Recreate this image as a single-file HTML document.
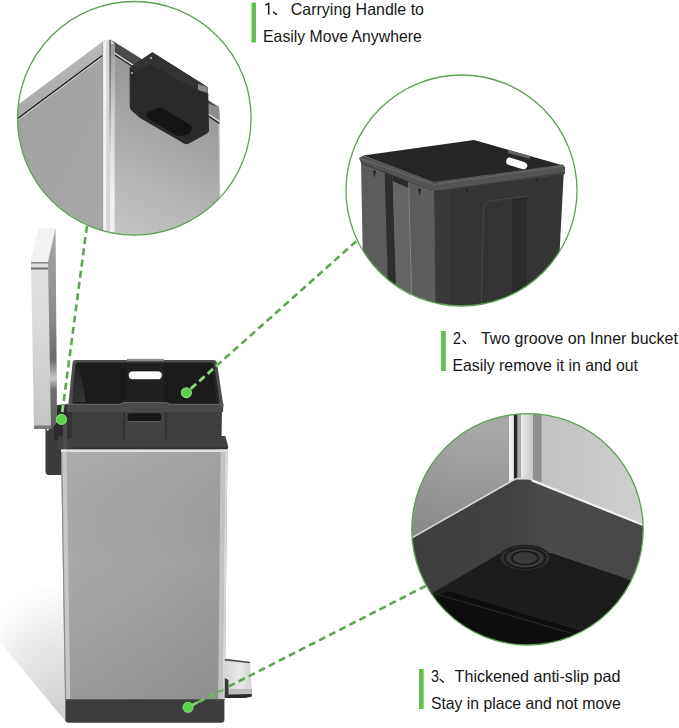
<!DOCTYPE html>
<html><head><meta charset="utf-8">
<style>
html,body{margin:0;padding:0;background:#fff;}
body{width:679px;height:728px;overflow:hidden;position:relative;}
svg{position:absolute;left:0;top:0;display:block;}
text{font-family:"Liberation Sans",sans-serif;fill:#161616;}
</style></head><body>
<svg width="679" height="728" viewBox="0 0 679 728">
<defs>
  <clipPath id="c1"><circle cx="134.3" cy="118.3" r="116.8"/></clipPath>
  <clipPath id="c2"><circle cx="461.5" cy="190.5" r="115.5"/></clipPath>
  <clipPath id="c3"><circle cx="527.5" cy="529.3" r="115.7"/></clipPath>
  <linearGradient id="bodyG" x1="0" y1="0" x2="1" y2="0">
    <stop offset="0" stop-color="#a9a9a9"/>
    <stop offset="0.5" stop-color="#a3a3a3"/>
    <stop offset="1" stop-color="#9c9c9c"/>
  </linearGradient>
  <linearGradient id="c1R" x1="0.5" y1="0" x2="0.2" y2="1">
    <stop offset="0" stop-color="#8e8e8e"/>
    <stop offset="0.5" stop-color="#aaaaaa"/>
    <stop offset="1" stop-color="#c4c4c4"/>
  </linearGradient>
  <linearGradient id="c3L" x1="400" y1="415" x2="380" y2="545" gradientUnits="userSpaceOnUse">
    <stop offset="0" stop-color="#a8a8a8"/>
    <stop offset="1" stop-color="#858585"/>
  </linearGradient>
  <linearGradient id="c3B" x1="0" y1="0" x2="0" y2="1">
    <stop offset="0" stop-color="#474747"/>
    <stop offset="0.5" stop-color="#3e3e3e"/>
    <stop offset="1" stop-color="#3a3a3a"/>
  </linearGradient>
  <linearGradient id="c3R" x1="0" y1="0" x2="1" y2="0">
    <stop offset="0" stop-color="#c2c2c2"/>
    <stop offset="1" stop-color="#d0d0d0"/>
  </linearGradient>
  <linearGradient id="shadowG" x1="0" y1="0" x2="0" y2="1">
    <stop offset="0" stop-color="#ffffff"/>
    <stop offset="1" stop-color="#e2e2e2"/>
  </linearGradient>
  <linearGradient id="lidSide" x1="0" y1="0" x2="0" y2="1">
    <stop offset="0" stop-color="#a8a8a8"/>
    <stop offset="0.45" stop-color="#8a8a8a"/>
    <stop offset="0.65" stop-color="#6a6a6a"/>
    <stop offset="0.75" stop-color="#c8c8c8"/>
    <stop offset="0.8" stop-color="#707070"/>
    <stop offset="1" stop-color="#5a5a5a"/>
  </linearGradient>
  <linearGradient id="lidF" x1="0" y1="228" x2="0" y2="429" gradientUnits="userSpaceOnUse">
    <stop offset="0" stop-color="#e4e4e4"/>
    <stop offset="0.5" stop-color="#dadada"/>
    <stop offset="1" stop-color="#c4c4c4"/>
  </linearGradient>
  <linearGradient id="c1L" x1="0" y1="0" x2="1" y2="1">
    <stop offset="0" stop-color="#a0a0a0"/>
    <stop offset="1" stop-color="#a8a8a8"/>
  </linearGradient>
  <linearGradient id="c1Lip" x1="0" y1="0" x2="0" y2="1">
    <stop offset="0" stop-color="#b8b8b8"/>
    <stop offset="1" stop-color="#a6a6a6"/>
  </linearGradient>
  <linearGradient id="c3C" x1="0" y1="0" x2="1" y2="0">
    <stop offset="0" stop-color="#ececec"/>
    <stop offset="1" stop-color="#c4c4c4"/>
  </linearGradient>
  <linearGradient id="bodyV" x1="0" y1="0" x2="0" y2="1">
    <stop offset="0" stop-color="#ffffff" stop-opacity="0.06"/>
    <stop offset="0.45" stop-color="#000000" stop-opacity="0"/>
    <stop offset="1" stop-color="#000000" stop-opacity="0.09"/>
  </linearGradient>
  <radialGradient id="shadowR" cx="62" cy="712" r="130" gradientUnits="userSpaceOnUse" gradientTransform="translate(62 712) scale(0.75 1) translate(-62 -712)">
    <stop offset="0" stop-color="#d0d0d0"/>
    <stop offset="0.5" stop-color="#e6e6e6"/>
    <stop offset="1" stop-color="#ffffff"/>
  </radialGradient>
  <linearGradient id="bucketL" x1="0" y1="0" x2="0" y2="1">
    <stop offset="0" stop-color="#222"/>
    <stop offset="1" stop-color="#363636"/>
  </linearGradient>
  <linearGradient id="c1Dark" x1="0" y1="40" x2="0" y2="160" gradientUnits="userSpaceOnUse">
    <stop offset="0" stop-color="#555"/>
    <stop offset="1" stop-color="#555" stop-opacity="0"/>
  </linearGradient>
  <linearGradient id="c3B2" x1="0" y1="0" x2="0" y2="1">
    <stop offset="0" stop-color="#4c4c4c"/>
    <stop offset="1" stop-color="#424242"/>
  </linearGradient>
  <linearGradient id="c3BH" x1="400" y1="0" x2="660" y2="0" gradientUnits="userSpaceOnUse">
    <stop offset="0" stop-color="#3d3d3d"/>
    <stop offset="0.42" stop-color="#414141"/>
    <stop offset="0.58" stop-color="#4a4a4a"/>
    <stop offset="1" stop-color="#464646"/>
  </linearGradient>
  <linearGradient id="c1Br" x1="0" y1="44" x2="0" y2="200" gradientUnits="userSpaceOnUse">
    <stop offset="0" stop-color="#9a9a9a"/>
    <stop offset="0.5" stop-color="#d8d8d8"/>
    <stop offset="1" stop-color="#f2f2f2"/>
  </linearGradient>
  <linearGradient id="pedalG" x1="0" y1="0" x2="1" y2="0">
    <stop offset="0" stop-color="#d8d8d8"/>
    <stop offset="0.6" stop-color="#e8e8e8"/>
    <stop offset="1" stop-color="#cfcfcf"/>
  </linearGradient>
</defs>
<rect width="679" height="728" fill="#fff"/>

<!-- ============ MAIN CAN ============ -->
<g id="can">
  <!-- shadow -->
  <polygon points="64,570 66,722 0,642 0,585" fill="url(#shadowR)"/>
  <!-- back hinge housing -->
  <path d="M45.5,426 H62 V475 H49 Q45.5,475 45.5,471 Z" fill="#3b3b3b"/>
  <!-- hinge dark block -->
  <path d="M54,440 L54,409 Q54.5,405 58,405 L69,404 L69,440 Z" fill="#2c2c2c"/>
  <!-- lid -->
  <polygon points="39,228 55.5,228.5 57,422 51,429 34,429 31,262" fill="url(#lidF)"/>
  <polygon points="39,228 55.5,228.5 48,262 31,262" fill="#f2f2f2"/>
  <polygon points="55.5,228.5 57,422 51,429 48,262" fill="url(#lidSide)"/>
  <rect x="31" y="262" width="17" height="1.6" fill="#8a8a8a"/>
  <rect x="31" y="267.5" width="17" height="2" fill="#6f6f6f"/>
  <rect x="34" y="425.5" width="17" height="3.5" fill="#7a7a7a"/>
  <circle cx="47.8" cy="429.8" r="1" fill="#eee"/>
  <!-- outer rim top dark band -->
  <path d="M58,436 H225.3 L228.2,446.5 Q228.4,450 225.5,450 H58 Z" fill="#414141"/>
  <rect x="66" y="437.5" width="158.5" height="1.3" fill="#555"/>
  <rect x="62" y="447.6" width="165" height="2" fill="#2e2e2e"/>
  <rect x="63" y="418" width="4" height="31" fill="#4c4c4c"/>
  <!-- body -->
  <polygon points="61,449.5 227.5,449.5 224.8,699.5 65,699.5" fill="url(#bodyG)"/>
  <polygon points="61,449.5 227.5,449.5 224.8,699.5 65,699.5" fill="url(#bodyV)"/>
  <polygon points="61,449.5 62.2,449.5 66.2,699.5 65,699.5" fill="#8a8a8a"/>
  <polygon points="62.2,449.5 66.5,449.5 70.3,699.5 66.2,699.5" fill="#c6c6c6"/>
  <polygon points="220.6,449.5 225,449.5 222.6,699.5 218.2,699.5" fill="#c2c2c2"/>
  <polygon points="225,449.5 227.5,449.5 224.8,699.5 222.6,699.5" fill="#d6d6d6"/>
  <rect x="61" y="449.5" width="166.5" height="2.5" fill="#e2e2e2"/>
  <!-- base -->
  <path d="M65.4,699 H224.4 V719.5 Q224.4,722.8 221,722.8 H68.8 Q65.4,722.8 65.4,719.5 Z" fill="#3d3d3d"/>
  <rect x="65.4" y="699" width="159" height="1.2" fill="#555"/>
  <!-- pedal -->
  <polygon points="224.8,659 250,662 252,695 224.8,697" fill="url(#pedalG)"/>
  <polygon points="224.8,658.8 250,661.8 250.2,663.3 224.8,660.6" fill="#4a4a4a"/>
  <rect x="225" y="689" width="27" height="5" fill="#bdbdbd"/>
  <polygon points="224.8,694.5 252,694 251.5,696.8 245,698 224.8,698" fill="#2a2a2a"/>
  <polygon points="224.8,678 228.5,680 228.5,697 224.8,697" fill="#3a3a3a"/>
  <!-- bucket lower front face -->
  <polygon points="67,411 222,411 221.5,439 67,439" fill="#3e3e3e"/>
  <rect x="67" y="411" width="5" height="28" fill="#333"/>
  <!-- handle panel -->
  <rect x="123.5" y="404" width="43" height="35" fill="#414141"/>
  <rect x="123.5" y="404" width="1.5" height="35" fill="#2e2e2e"/>
  <rect x="165" y="404" width="1.5" height="35" fill="#2e2e2e"/>
  <rect x="127.7" y="413.3" width="33.5" height="8" rx="2.5" fill="#161616"/>
  <rect x="128.5" y="421" width="32" height="1.2" fill="#5a5a5a"/>
  <!-- upper bucket -->
  <path d="M75.5,360 H213.5 Q216.5,360 217,363 L223.3,405 H68.3 L72.5,363 Q73,360 75.5,360 Z" fill="#4e4e4e"/>
  <path d="M77.5,362.5 H212 Q213.6,362.5 213.9,364 L219.3,405 H72.6 L75.6,364 Q76,362.5 77.5,362.5 Z" fill="#1b1b1b"/>
  <polygon points="75.3,364.5 79,366 86,402 72,402" fill="url(#bucketL)"/>
  <polygon points="214.3,364.5 219.5,402 216.5,402 212,366" fill="#262626"/>
  <rect x="127" y="363" width="37" height="40" fill="#202020"/>
  <rect x="127" y="358.8" width="37" height="2.2" fill="#8a8a8a"/>
  <rect x="128.3" y="370.9" width="34" height="8.8" rx="4.2" fill="#fff" stroke="#111" stroke-width="0.8"/>
  <!-- ledge -->
  <polygon points="67,404 120,404 124,402.3 166,402.3 170,404 223.5,404 223,412 67,412" fill="#4a4a4a"/>
  <polyline points="67,404.4 120,404.4 124,402.7 166,402.7 170,404.4 223.5,404.4" fill="none" stroke="#626262" stroke-width="1.2"/>
</g>

<!-- ============ CIRCLE 1 ============ -->
<g clip-path="url(#c1)">
  <!-- left face -->
  <polygon points="0,131.6 104.3,53.9 104.3,240 0,240" fill="url(#c1L)"/>
  <!-- left lip -->
  <polygon points="0,118.2 105,39.7 106,53 0,131.6" fill="url(#c1Lip)"/>
  <line x1="0" y1="131.6" x2="104.3" y2="53.9" stroke="#1a1a1a" stroke-width="1.3"/>
  <line x1="0" y1="133.4" x2="104.3" y2="55.7" stroke="#cfcfcf" stroke-width="1"/>
  <!-- right face -->
  <polygon points="111,51 219,112 220.5,240 111,240" fill="url(#c1R)"/>
  <line x1="219" y1="124" x2="220.3" y2="240" stroke="#c8c8c8" stroke-width="1"/>
  <!-- right lip -->
  <polygon points="110,39.3 219,107 219.6,122 111.5,50.8" fill="#4a4a4a"/>
  <polygon points="200,101 219,107 219.6,122 200,111" fill="#8c8c8c"/>
  <line x1="111.5" y1="51" x2="219.6" y2="121.5" stroke="#e0e0e0" stroke-width="1.1"/>
  <line x1="111.5" y1="52.8" x2="219.6" y2="123.5" stroke="#1e1e1e" stroke-width="1.1"/>
  <!-- corner strip -->
  <path d="M102.5,50 Q103.5,40 109.7,39.3 L111,39.5 L114.5,44 L114.5,240 L102.5,240 Z" fill="#d6d6d6"/>
  <rect x="102.2" y="45" width="1" height="195" fill="#9a9a9a"/>
  <rect x="103.3" y="41" width="2.8" height="200" fill="#f2f2f2"/>
  <rect x="110.2" y="44" width="4.3" height="197" fill="url(#c1Br)"/>
  <rect x="109.4" y="40" width="1.5" height="200" fill="url(#c1Dark)"/>
  <!-- handle box -->
  <path d="M129.7,67.5 L152.4,52.2 L207.5,87 L208.3,96 L209,130 Q209,132 207,133.5 L189,143.5 Q186.4,145 184,143.5 L140,118 L132,111 Q129.7,109 129.7,106 Z" fill="#2a2a2a"/>
  <polygon points="129.7,67.5 152.4,52.2 207.5,87 208.3,96 150,64 135,72" fill="#333"/>
  <polygon points="198,84 207.5,87 208,93 198,90" fill="#8a8a8a"/>
  <path d="M149.7,111.5 L158,107.8 Q160.3,107 162.5,108.3 L190.5,125 Q192.5,126.5 191.8,129 L190.5,132.5 Q189.5,134 187.5,134.5 L180.5,136 Q178.5,136.4 176.8,135.4 L148,118.5 Q146,117.3 146.6,115.5 L147.5,113 Q148,111.9 149.7,111.5 Z" fill="#141414"/>
  <circle cx="151" cy="58" r="0.9" fill="#ddd"/>
  <circle cx="132" cy="73" r="0.9" fill="#ccc"/>
</g>
<circle cx="134.3" cy="118.3" r="116.8" fill="none" stroke="#5f9f57" stroke-width="1.3"/>

<!-- ============ CIRCLE 2 ============ -->
<g clip-path="url(#c2)">
  <!-- left face -->
  <polygon points="361,162 434,192 436,320 364,320" fill="#5c5c5c"/>
  <polygon points="384.5,168 392.5,171 397,320 389,320" fill="#2e2e2e"/>
  <polygon points="392.5,174 408.3,180 412.5,320 397,320" fill="#656565"/>
  <line x1="408.6" y1="182" x2="412.3" y2="320" stroke="#828282" stroke-width="1.1"/>
  <polygon points="392.5,174 408.3,181 408.3,188 392.5,181" fill="#2a2a2a"/>
  <polygon points="373,170 376,171 374.5,178" fill="#222"/>
  <polygon points="418,188 421,189 419.5,196" fill="#222"/>
  <!-- front face -->
  <polygon points="434,190 564,168 556,320 435.7,320" fill="#353535"/>
  <polygon points="434,190 450,188 451,320 435.7,320" fill="#393939"/>
  <path d="M481,320 L483.6,210 Q484,203 490,201 L527,196 L527,320 Z" fill="#333"/>
  <polygon points="512.5,197.5 527,196 527,320 512.5,320" fill="#2b2b2b"/>
  <path d="M481,320 L483.6,210 Q484,203 490,201 L527,196" fill="none" stroke="#454545" stroke-width="1.3"/>
  <rect x="536" y="174" width="1.4" height="8" fill="#252525"/>
  <rect x="466" y="185" width="1.4" height="8" fill="#252525"/>
  <!-- top interior -->
  <polygon points="363.3,155.6 474,140 562.5,165.3 434,182.5" fill="#262626"/>
  <!-- rim -->
  <polygon points="359,158 363.3,155.6 434,182 562.5,164.5 565,167 565,174 434,191.5 361,163" fill="#535353"/>
  <polyline points="360,158.5 434,184.5 564,166" fill="none" stroke="#636363" stroke-width="1.5"/>
  <polyline points="361,163 434,191.5 564.5,173" fill="none" stroke="#3a3a3a" stroke-width="1"/>
  <polygon points="508,150 530,156 530,159 508,153" fill="#606060"/>
  <path d="M510,157.6 L524,162 Q528,163.5 527.2,166.5 Q526,170 522,169 L509,165 Q505.5,164 506.2,161 Q507,157 510,157.6 Z" fill="#fff"/>
</g>
<circle cx="461.5" cy="190.5" r="115.5" fill="none" stroke="#5f9f57" stroke-width="1.3"/>

<!-- ============ CIRCLE 3 ============ -->
<g clip-path="url(#c3)">
  <!-- metal left face -->
  <polygon points="400,400 509,400 509,484 400,546" fill="url(#c3L)"/>
  <!-- metal right face -->
  <polygon points="541,400 660,400 660,532 541,486" fill="url(#c3R)"/>
  <!-- corner strip -->
  <rect x="509" y="400" width="32.6" height="82" fill="#d2d2d2"/>
  <rect x="509" y="400" width="4" height="82" fill="#f0f0f0"/>
  <rect x="514" y="400" width="3.6" height="82" fill="#262626"/>
  <rect x="517.6" y="400" width="3.4" height="82" fill="#a8a8a8"/>
  <rect x="521" y="400" width="12" height="82" fill="url(#c3C)"/>
  <rect x="533" y="400" width="8.6" height="82" fill="#8e8e8e"/>
  <!-- base -->
  <polygon points="400,545 515,479.3 530,479.3 660,532 660,660 400,660" fill="url(#c3BH)"/>
  <polyline points="400,544.6 513,480.3 517,478.6 528,478.6 532,480 660,531.2" fill="none" stroke="#d8d8d8" stroke-width="1.6"/>
  <line x1="532" y1="480.6" x2="660" y2="531.8" stroke="#efefef" stroke-width="2.2"/>
  <!-- underside -->
  <polygon points="436,591 500.5,553 551,553 619,576 646,586 660,600 660,660 400,660 400,615" fill="#1c1c1c"/>
  <polygon points="430,598 448,591 620,643 600,660 420,660" fill="#0d0d0d"/>
  <line x1="436" y1="594" x2="612" y2="645" stroke="#2a2a2a" stroke-width="1.2"/>
  <!-- foot -->
  <ellipse cx="525" cy="558" rx="25" ry="12.6" fill="#303030" stroke="#1c1c1c" stroke-width="1.2"/>
  <ellipse cx="525" cy="558" rx="20.5" ry="10.2" fill="none" stroke="#171717" stroke-width="1.6"/>
  <ellipse cx="525" cy="558" rx="16.8" ry="8.3" fill="none" stroke="#454545" stroke-width="1"/>
  <ellipse cx="525" cy="558" rx="13" ry="6.6" fill="#3a3a3a" stroke="#161616" stroke-width="1.4"/>
</g>
<circle cx="527.5" cy="529.3" r="115.7" fill="none" stroke="#5f9f57" stroke-width="1.3"/>

<!-- ============ CONNECTORS ============ -->
<defs>
  <clipPath id="offBody"><polygon points="0,0 679,0 679,728 0,728 0,690 224.8,690 224.8,0"/></clipPath>
  <clipPath id="onBody"><rect x="0" y="640" width="224.8" height="88"/></clipPath>
  <clipPath id="inBucket"><polygon points="72.5,360 217,360 223.3,405 68.3,405"/><rect x="54" y="404" width="15" height="36"/></clipPath>
</defs>
<g stroke="#5da552" stroke-width="2.6" stroke-dasharray="7 4.3" fill="none">
  <line x1="86.9" y1="226" x2="61.3" y2="419.5"/>
  <line x1="356.3" y1="241.2" x2="186.4" y2="392.7"/>
  <line x1="356.3" y1="241.2" x2="186.4" y2="392.7" clip-path="url(#inBucket)" stroke="#8ed682"/>
  <line x1="86.9" y1="226" x2="61.3" y2="419.5" clip-path="url(#inBucket)" stroke="#8ed682"/>
  <line x1="426" y1="585.8" x2="188" y2="707.3" clip-path="url(#offBody)"/>
  <line x1="426" y1="585.8" x2="188" y2="707.3" clip-path="url(#onBody)" stroke="#7fd070" stroke-opacity="0.5"/>
  <line x1="188" y1="707.3" x2="198" y2="702.2" stroke-dasharray="none" stroke="#7fd070"/>
</g>
<g fill="#58d048" stroke="#86dc78" stroke-width="1.1">
  <circle cx="61.4" cy="419.4" r="5"/>
  <circle cx="186.4" cy="392.7" r="5"/>
  <circle cx="188" cy="707.3" r="5"/>
</g>

<!-- ============ LABELS ============ -->
<g fill="#62c053">
  <rect x="251.5" y="2.5" width="4.5" height="40"/>
  <rect x="441" y="331" width="4.8" height="40"/>
  <rect x="419" y="669" width="4.7" height="40"/>
</g>
<g font-size="16.5">
  <text x="290.8" y="14.7" textLength="133.2" lengthAdjust="spacingAndGlyphs">Carrying Handle to</text>
  <text x="263.1" y="41.5" textLength="158.6" lengthAdjust="spacingAndGlyphs">Easily Move Anywhere</text>

  <text x="453" y="343.5" textLength="8" lengthAdjust="spacingAndGlyphs">2</text>
  <text x="480.9" y="343.5" textLength="197" lengthAdjust="spacingAndGlyphs">Two groove on Inner bucket</text>
  <text x="452.5" y="370.5" textLength="185.5" lengthAdjust="spacingAndGlyphs">Easily remove it in and out</text>

  <text x="431" y="682.2" textLength="8" lengthAdjust="spacingAndGlyphs">3</text>
  <text x="454.6" y="682.2" textLength="165.8" lengthAdjust="spacingAndGlyphs">Thickened anti-slip pad</text>
  <text x="430.9" y="709.2" textLength="190" lengthAdjust="spacingAndGlyphs">Stay in place and not move</text>
</g>
<!-- ideographic commas & digit 1 -->
<path d="M265.2,5.1 L268.7,3.4 L268.7,14.7" fill="none" stroke="#1a1a1a" stroke-width="1.5" stroke-linejoin="miter"/>
<g stroke="#1a1a1a" fill="none" stroke-linecap="round">
  <path d="M273.3,12 L276.3,14.3" stroke-width="1.3"/>
  <path d="M462.9,340.6 L465.6,343.2" stroke-width="1.3"/>
  <path d="M440.2,679.5 L443.3,681.9" stroke-width="1.3"/>
</g>
<g fill="#1a1a1a">
  <circle cx="276" cy="14.1" r="0.85"/>
  <circle cx="465.3" cy="343" r="0.85"/>
  <circle cx="443" cy="681.7" r="0.85"/>
</g>
</svg>
</body></html>
